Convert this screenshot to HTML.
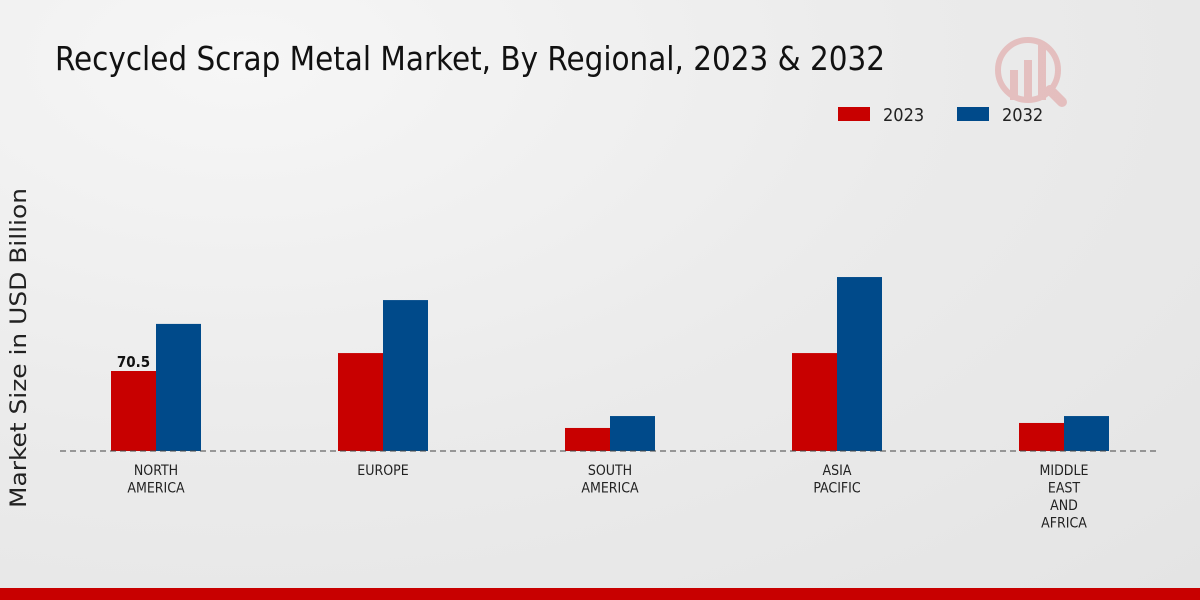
<!DOCTYPE html>
<html><head><meta charset="utf-8"><style>
html,body{margin:0;padding:0;width:1200px;height:600px;overflow:hidden}
body{background:radial-gradient(ellipse at 20% 10%,#f6f6f6 0%,#ebebeb 50%,#e4e4e4 100%);font-family:"DejaVu Sans",sans-serif}
</style></head><body>
<svg id="chart" width="1200" height="600" xmlns="http://www.w3.org/2000/svg">
<text x="55" y="70" font-family="'DejaVu Sans Condensed','DejaVu Sans',sans-serif" font-size="33" fill="#111" textLength="830" lengthAdjust="spacingAndGlyphs">Recycled Scrap Metal Market, By Regional, 2023 &amp; 2032</text>
<g opacity="0.18">
<circle cx="1028" cy="70" r="30" fill="none" stroke="#c00" stroke-width="6"/>
<rect x="1010" y="70" width="8" height="30" fill="#c00"/><rect x="1024" y="60" width="8" height="40" fill="#c00"/><rect x="1038" y="45" width="8" height="55" fill="#c00"/>
<line x1="1050" y1="90" x2="1062" y2="102" stroke="#c00" stroke-width="10" stroke-linecap="round"/>
</g>
<g>
<rect x="838" y="107" width="32" height="14" fill="#c80000"/>
<text x="883" y="121" font-size="18" fill="#222" font-family="'DejaVu Sans Condensed','DejaVu Sans',sans-serif">2023</text>
<rect x="957" y="107" width="32" height="14" fill="#004a8a"/>
<text x="1002" y="121" font-size="18" fill="#222" font-family="'DejaVu Sans Condensed','DejaVu Sans',sans-serif">2032</text>
</g>
<text transform="translate(26,348) rotate(-90)" text-anchor="middle" font-size="22" fill="#222" font-family="'DejaVu Sans',sans-serif" textLength="320" lengthAdjust="spacingAndGlyphs">Market Size in USD Billion</text>
<g id="bars"></g>
<line x1="60" y1="451" x2="1160" y2="451" stroke="#444" stroke-dasharray="6,4"/>
<g id="labels"></g>
<rect x="0" y="588" width="1200" height="12" fill="#c80000"/>
</svg>
<script>
const categories=[["NORTH","AMERICA"],["EUROPE"],["SOUTH","AMERICA"],["ASIA","PACIFIC"],["MIDDLE","EAST","AND","AFRICA"]];
const values2023=[70.5,86.3,20.3,86.3,24.7];
const values2032=[112,133,30.8,153.3,30.8];
const shownLabels=["70.5",null,null,null,null];
const NS="http://www.w3.org/2000/svg";
const base=451,scale=80/70.5,x0=156,step=227,bw=45;
const y=v=>base-v*scale;
const bars=document.getElementById('bars'),labels=document.getElementById('labels');
categories.forEach((c,i)=>{
 const cx=x0+i*step;
 [[values2023,'#c80000',-bw,'2023'],[values2032,'#004a8a',0,'2032']].forEach(([arr,col,off,yr])=>{
  const r=document.createElementNS(NS,'rect');
  r.setAttribute('x',cx+off);r.setAttribute('y',y(arr[i]));r.setAttribute('width',bw);r.setAttribute('height',base-y(arr[i]));r.setAttribute('fill',col);
  
  
  bars.appendChild(r);
 });
 if(shownLabels[i]){
  const t=document.createElementNS(NS,'text');
  t.setAttribute('x',cx-bw/2);t.setAttribute('y',y(values2023[i])-4);t.setAttribute('text-anchor','middle');t.setAttribute('font-size','15');t.setAttribute('font-weight','bold');t.setAttribute('fill','#111');
  t.setAttribute('font-family',"'DejaVu Sans Condensed','DejaVu Sans',sans-serif");
  t.textContent=shownLabels[i];
  
  
  bars.appendChild(t);
 }
 c.forEach((line,j)=>{
  const t=document.createElementNS(NS,'text');
  t.setAttribute('x',cx);t.setAttribute('y',475+j*17.5);t.setAttribute('text-anchor','middle');t.setAttribute('font-size','14');t.setAttribute('fill','#222');
  t.setAttribute('font-family',"'DejaVu Sans Condensed','DejaVu Sans',sans-serif");
  t.textContent=line;
  
  
  labels.appendChild(t);
 });
});
</script>
</body></html>
